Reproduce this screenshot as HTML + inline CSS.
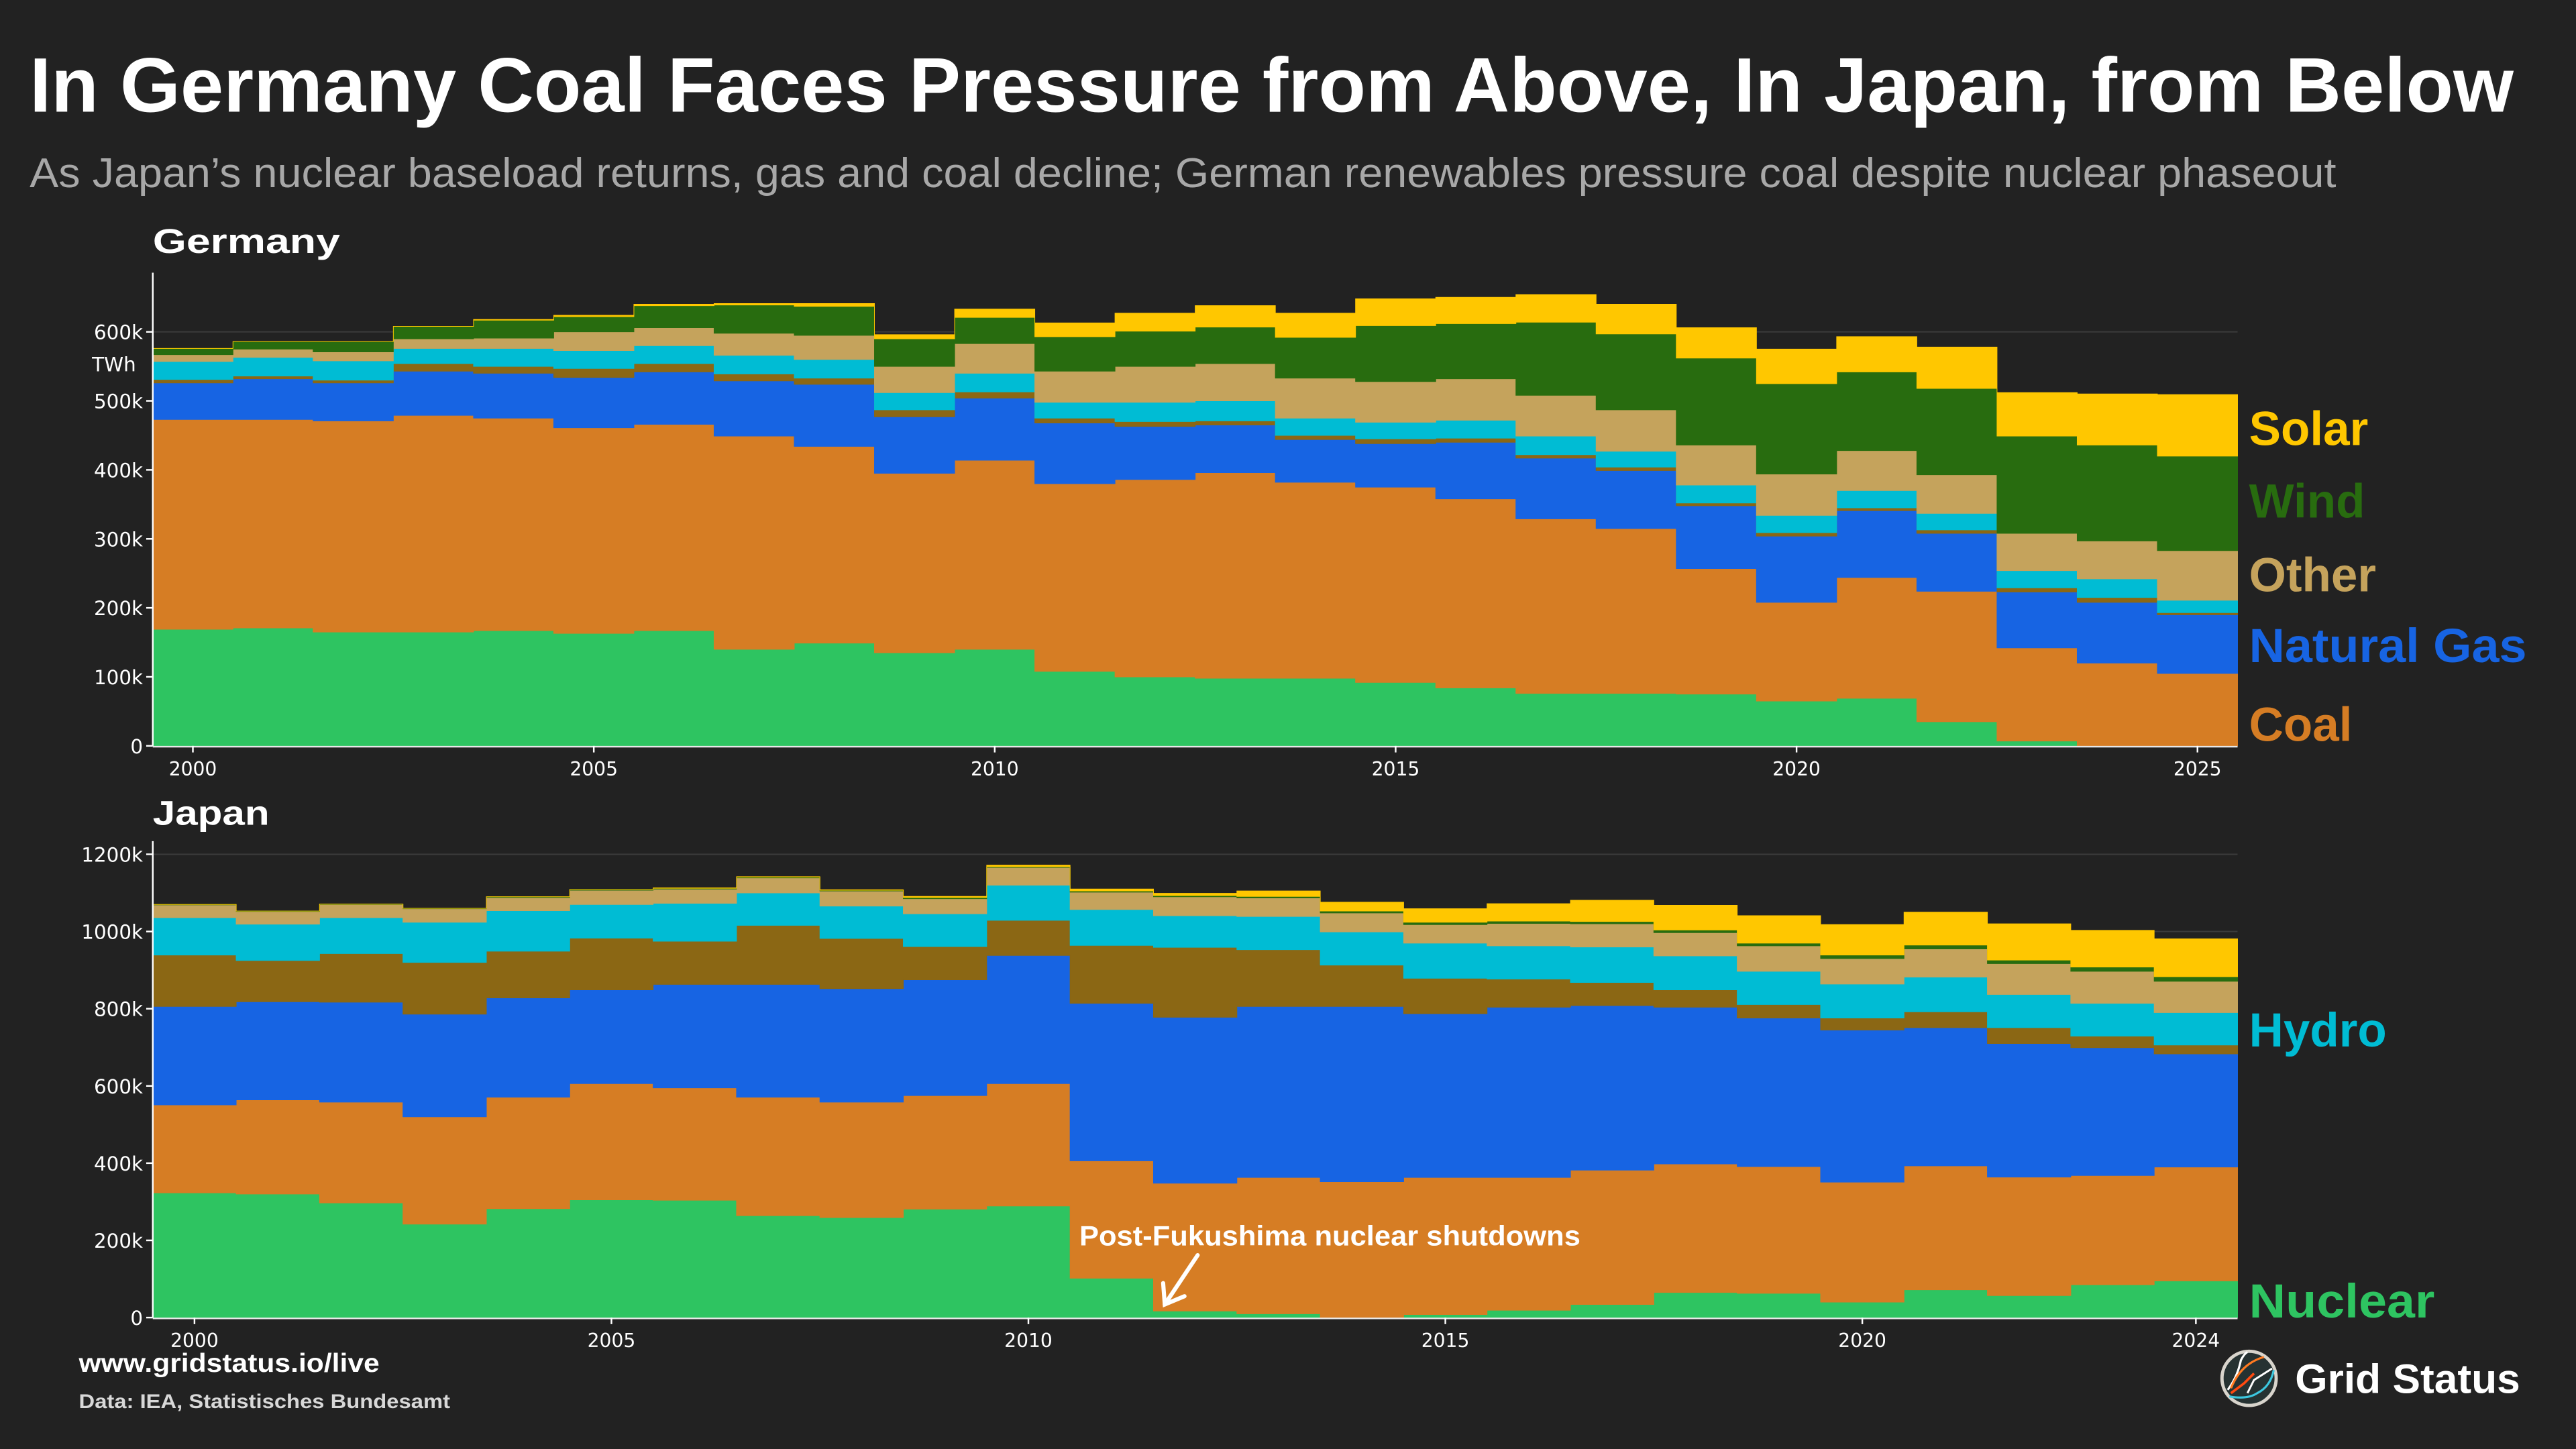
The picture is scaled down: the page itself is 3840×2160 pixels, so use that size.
<!DOCTYPE html>
<html><head><meta charset="utf-8">
<style>
html,body{margin:0;padding:0;background:#222222;}
svg{display:block;}
text{font-family:"Liberation Sans","DejaVu Sans",sans-serif;}
</style></head>
<body>
<svg id="chart" width="3840" height="2160" viewBox="0 0 1568 882" xmlns="http://www.w3.org/2000/svg">
<rect x="0" y="0" width="1568" height="882" fill="#222222"/>
<text x="18" y="68" font-size="47" font-weight="bold" fill="#ffffff" textLength="1512" lengthAdjust="spacingAndGlyphs">In Germany Coal Faces Pressure from Above, In Japan, from Below</text>
<text x="18" y="114" font-size="25.5" fill="#a8a8a8" textLength="1404" lengthAdjust="spacingAndGlyphs">As Japan’s nuclear baseload returns, gas and coal decline; German renewables pressure coal despite nuclear phaseout</text>
<text x="93" y="154" font-size="21" font-weight="bold" fill="#ffffff" textLength="114" lengthAdjust="spacingAndGlyphs">Germany</text>
<text x="93" y="502" font-size="21" font-weight="bold" fill="#ffffff" textLength="71" lengthAdjust="spacingAndGlyphs">Japan</text>
<g id="de"></g>
<g id="jp"></g>
<text x="56" y="226" font-size="12" fill="#ffffff" style="font-family:'DejaVu Sans',sans-serif">TWh</text>
<text x="1369" y="271" font-size="29" font-weight="bold" fill="#ffc700">Solar</text>
<text x="1369" y="315" font-size="29" font-weight="bold" fill="#286c0f">Wind</text>
<text x="1369" y="360" font-size="29" font-weight="bold" fill="#c5a35c">Other</text>
<text x="1369" y="403" font-size="29" font-weight="bold" fill="#1764e3" textLength="169" lengthAdjust="spacingAndGlyphs">Natural Gas</text>
<text x="1369" y="451" font-size="29" font-weight="bold" fill="#d67d24">Coal</text>
<text x="1369" y="637" font-size="29" font-weight="bold" fill="#00bcd4">Hydro</text>
<text x="1369" y="802" font-size="29" font-weight="bold" fill="#2ec461" textLength="113" lengthAdjust="spacingAndGlyphs">Nuclear</text>
<text x="657" y="758" font-size="17" font-weight="bold" fill="#ffffff" textLength="305" lengthAdjust="spacingAndGlyphs">Post-Fukushima nuclear shutdowns</text>
<g stroke="#ffffff" stroke-width="2.5" fill="none" stroke-linecap="round">
<path d="M729 764 L709 794"/><path d="M708 781 L709 794 L721 789"/>
</g>
<text x="48" y="835" font-size="16" font-weight="bold" fill="#ffffff" textLength="183" lengthAdjust="spacingAndGlyphs">www.gridstatus.io/live</text>
<text x="48" y="857" font-size="12" font-weight="bold" fill="#d8d8d8" textLength="226" lengthAdjust="spacingAndGlyphs">Data: IEA, Statistisches Bundesamt</text>
<g>
<circle cx="1369" cy="839" r="16.5" fill="#263232" stroke="#d8d4cc" stroke-width="2"/>
<path d="M1356 846 Q1362 838 1364 828 Q1366 824 1368 823" stroke="#fff" stroke-width="1.3" fill="none"/>
<path d="M1358 848 L1366 842 L1372 836" stroke="#ff4a10" stroke-width="1.5" fill="none"/>
<path d="M1358 845 Q1364 830 1378 826" stroke="#ff7a20" stroke-width="1.3" fill="none"/>
<path d="M1357 850 Q1368 852 1374 848 Q1382 844 1384 834" stroke="#3cc8e0" stroke-width="1.3" fill="none"/>
<path d="M1368 848 L1372 840 L1383 833" stroke="#fff" stroke-width="1.2" fill="none"/>
</g>
<text x="1397" y="848" font-size="25" font-weight="bold" fill="#ffffff" textLength="137" lengthAdjust="spacingAndGlyphs">Grid Status</text>
</svg>
<script>
// Shared series metadata
const seriesNames = ["nuclear","coal","gas","oil","hydro","other","wind","solar"];
const seriesColors = ["#2ec461","#d67d24","#1764e3","#8b6714","#00bcd4","#c5a35c","#286c0f","#ffc700"];

// Germany (TWh k)
const deYears = [2000,2001,2002,2003,2004,2005,2006,2007,2008,2009,2010,2011,2012,2013,2014,2015,2016,2017,2018,2019,2020,2021,2022,2023,2024,2025];
const deNuclear = [169,171,165,165,167,163,167,140,149,135,140,108,100,98,98,92,84,76,76,75,65,69,35,7,0,0];
const deCoal = [304,302,306,314,308,298,299,309,285,260,274,272,286,298,284,283,274,253,239,182,143,175,189,135,120,105];
const deGas = [53,59,55,64,65,73,76,80,90,82,90,88,77,69,62,63,82,88,84,91,96,97,84,81,88,85];
const deOil = [5,4,4,11,10,13,12,10,9,10,9,7,7,6,6,7,6,5,5,4,5,4,5,6,7,3];
const deHydro = [26,27,28,22,26,26,26,27,27,25,27,23,28,29,25,24,26,27,23,26,25,25,24,25,27,18];
const deOther = [10,12,13,14,15,27,26,32,35,38,43,45,52,54,58,59,60,59,60,58,60,58,56,54,55,72];
const deWind = [9,11,15,18,26,22,32,41,42,40,38,50,51,53,59,81,80,106,110,126,131,114,125,141,139,137];
const deSolar = [0,0,0,0,1,2,2,2,4,6,12,20,26,31,35,39,38,40,43,44,50,51,60,63,74,89];
const deYTicks = [0,100,200,300,400,500,600];
const deYTickLabels = ["0","100k","200k","300k","400k","500k","600k"];
const deXTicks = [2000,2005,2010,2015,2020,2025];

// Japan (TWh k)
const jpYears = [2000,2001,2002,2003,2004,2005,2006,2007,2008,2009,2010,2011,2012,2013,2014,2015,2016,2017,2018,2019,2020,2021,2022,2023,2024];
const jpNuclear = [323,320,297,242,282,305,304,264,259,281,289,102,17,10,0,8,19,34,65,63,40,72,57,85,95];
const jpCoal = [228,244,261,278,289,301,291,307,299,294,317,304,331,353,352,355,344,348,333,328,311,321,307,283,295];
const jpGas = [255,254,259,266,257,243,268,292,294,300,332,408,430,443,454,424,441,426,406,385,394,358,346,331,293];
const jpOil = [133,107,126,134,121,134,112,153,130,86,91,150,181,147,107,92,73,60,45,35,31,41,41,30,23];
const jpHydro = [97,94,93,104,105,87,98,84,84,85,91,93,82,86,86,91,86,92,88,86,88,90,86,85,84];
const jpOther = [33,33,34,35,34,37,37,39,39,39,46,45,49,48,49,48,58,60,60,66,66,73,80,83,81];
const jpWind = [1,1,1,1,2,2,2,2,2,3,2,3,3,4,5,6,6,6,7,7,9,10,9,11,12];
const jpSolar = [0,0,0,0,0,0,1,1,1,3,4,5,6,14,23,35,45,55,64,71,79,85,94,95,98];
const jpYTicks = [0,200,400,600,800,1000,1200];
const jpYTickLabels = ["0","200k","400k","600k","800k","1000k","1200k"];
const jpXTicks = [2000,2005,2010,2015,2020,2024];

const NS = "http://www.w3.org/2000/svg";
function mk(tag, attrs, parent){
  const e = document.createElementNS(NS, tag);
  for (const k in attrs) e.setAttribute(k, attrs[k]);
  parent.appendChild(e);
  return e;
}
const tickFont = "font-family:'DejaVu Sans',sans-serif";

function drawPanel(gid, years, series, yTicks, yLabels, xTicks, box){
  const g = document.getElementById(gid);
  const x0 = years[0]-0.5, x1 = years[years.length-1]+0.5;
  const xs = v => box.left + (v - x0)/(x1 - x0)*(box.right - box.left);
  const ys = v => box.bottom - v/box.ymax*(box.bottom - box.top);
  yTicks.forEach((t,i)=>{
    const l = mk("line",{x1:box.left,x2:box.right,y1:ys(t),y2:ys(t),stroke:"#3c3c3c","stroke-width":0.8},g);
    
    
  });
  const n = years.length;
  let base = new Array(n).fill(0);
  series.forEach((vals, si)=>{
    const top = vals.map((v,i)=>base[i]+v);
    let d = "";
    for (let i=0;i<n;i++){
      const a = xs(years[i]-0.5), b = xs(years[i]+0.5);
      d += (i===0?"M":"L")+a+" "+ys(top[i])+" L"+b+" "+ys(top[i])+" ";
    }
    for (let i=n-1;i>=0;i--){
      const a = xs(years[i]-0.5), b = xs(years[i]+0.5);
      d += "L"+b+" "+ys(base[i])+" L"+a+" "+ys(base[i])+" ";
    }
    d += "Z";
    const p = mk("path",{d:d,fill:seriesColors[si],stroke:seriesColors[si],"stroke-width":0.4},g);
    
    
    base = top;
  });
  const sl = mk("line",{x1:box.left,x2:box.left,y1:box.spineTop,y2:box.bottom,stroke:"#ffffff","stroke-width":1},g);
  
  
  const sb = mk("line",{x1:box.left,x2:box.right,y1:box.bottom+0.5,y2:box.bottom+0.5,stroke:"#e8e8e8","stroke-width":1},g);
  
  
  yTicks.forEach((t,i)=>{
    const tk = mk("line",{x1:box.left-4,x2:box.left,y1:ys(t),y2:ys(t),stroke:"#ffffff","stroke-width":1},g);
    
    
    const tx = mk("text",{x:box.left-6,y:ys(t)+4.5,"font-size":12,fill:"#ffffff","text-anchor":"end",style:tickFont},g);
    tx.textContent = yLabels[i];
    
    
  });
  xTicks.forEach(t=>{
    const tk = mk("line",{x1:xs(t),x2:xs(t),y1:box.bottom,y2:box.bottom+4,stroke:"#ffffff","stroke-width":1},g);
    
    
    const tx = mk("text",{x:xs(t),y:box.bottom+18,"font-size":11.5,fill:"#ffffff","text-anchor":"middle",style:tickFont},g);
    tx.textContent = String(t);
    
    
  });
}

drawPanel("de", deYears, [deNuclear,deCoal,deGas,deOil,deHydro,deOther,deWind,deSolar],
  deYTicks, deYTickLabels, deXTicks,
  {left:93,right:1362,top:202,bottom:454,ymax:600,spineTop:166});
drawPanel("jp", jpYears, [jpNuclear,jpCoal,jpGas,jpOil,jpHydro,jpOther,jpWind,jpSolar],
  jpYTicks, jpYTickLabels, jpXTicks,
  {left:93,right:1362,top:520,bottom:802,ymax:1200,spineTop:512});
</script>
</body></html>
